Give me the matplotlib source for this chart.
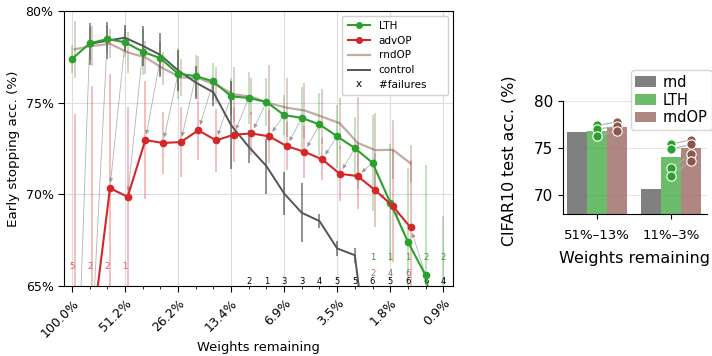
import numpy as np
import matplotlib.pyplot as plt
from matplotlib.patches import FancyArrowPatch
from matplotlib.lines import Line2D
from matplotlib.text import Text
from matplotlib.legend_handler import HandlerBase

# pruning iterations (20% per step)
steps = np.arange(22)
tick_steps = [0, 3, 6, 9, 12, 15, 18, 21]
tick_labels = ["100.0%", "51.2%", "26.2%", "13.4%", "6.9%", "3.5%", "1.8%", "0.9%"]

# early stopping accuracy (%)
lth_acc = [77.37, 78.22, 78.46, 78.28, 77.77, 77.41, 76.57, 76.44, 76.15, 75.34, 75.25,
           75.03, 74.32, 74.16, 73.81, 73.16, 72.52, 71.72, 69.56, 67.42, 65.6, 60.5]
lth_err = [0.75, 0.9, 0.75, 0.8, 1.25, 0.9, 1.4, 1.15, 1.0, 1.0, 1.4,
           1.3, 1.1, 1.7, 1.7, 1.7, 1.7, 2.6, 3.2, 4.0, 6.0, 8.3]

adv_acc = [55.0, 62.6, 70.34, 69.87, 72.96, 72.8, 72.85, 73.49, 72.94, 73.25,
           73.32, 73.16, 72.63, 72.32, 71.91, 71.12, 71.0, 70.23, 69.36, 68.2]
adv_err = [19.4, 13.3, 6.2, 4.9, 3.2, 1.7, 1.9, 1.6, 1.7, 1.5,
           1.15, 1.45, 1.3, 1.4, 1.15, 1.5, 1.8, 2.0, 3.05, 3.7]

rnd_acc = [77.9, 78.08, 78.2, 77.73, 77.46, 76.86, 76.37, 76.33, 75.95, 75.45,
           75.32, 74.96, 74.72, 74.57, 74.23, 73.87, 72.81, 72.41, 72.43, 71.69]
rnd_err = [1.55, 1.1, 0.8, 1.1, 0.9, 0.9, 1.0, 1.2, 1.0, 1.5,
           1.0, 2.1, 1.6, 1.5, 1.5, 1.4, 2.5, 2.0, 1.6, 1.0]

ctrl_acc = [78.19, 78.37, 78.53, 78.09, 77.59, 76.75, 76.09, 75.56, 73.77,
            72.59, 71.54, 70.05, 69.0, 68.55, 67.06, 66.69, 59.0]
ctrl_err = [1.15, 1.0, 0.7, 1.1, 1.2, 1.1, 0.9, 0.75, 2.4,
            0.9, 1.5, 1.15, 1.6, 0.4, 0.4, 0.4, 0.0]

# number of failed runs per level
adv_fail_steps, adv_fail = [0, 1, 2, 3], [5, 2, 2, 1]
lth_fail_steps, lth_fail = [17, 18, 19, 20, 21], [1, 1, 1, 2, 2]
rnd_fail_steps, rnd_fail = [17, 18, 19], [2, 4, 6]
ctrl_fail_steps = list(range(10, 22))
ctrl_fail = [2, 1, 3, 3, 4, 5, 5, 6, 5, 6, 6, 4]

# right panel: CIFAR10 test accuracy
groups = ["51%\u201313%", "11%\u20133%"]
bar_rnd = [76.7, 70.65]
bar_lth = [76.8, 74.05]
bar_rndop = [77.2, 75.0]
pts_lth = [[77.4, 76.98, 76.26], [75.4, 74.87, 72.86, 72.08]]
pts_rndop = [[77.76, 77.31, 76.81], [75.88, 75.4, 74.34, 73.63]]

GREEN = "#2ca02c"
RED = "#d62728"
BROWN = "#8c564b"
DARK = "#555555"
OFF = 0.15  # advOP / rndOP drawn slightly right


class TextHandle(HandlerBase):
    # legend handle that is just a character
    def create_artists(self, legend, orig_handle, xdescent, ydescent,
                       width, height, fontsize, trans):
        t = Text(width / 2 - xdescent, height / 2 - ydescent, orig_handle.get_label(),
                 ha="center", va="center", fontsize=fontsize, transform=trans)
        return [t]


fig = plt.figure(figsize=(7.12, 3.56), dpi=100)
ax = fig.add_axes([0.0899, 0.1958, 0.5463, 0.7742])

x_adv = steps[:len(adv_acc)] + OFF
x_rnd = steps[:len(rnd_acc)] + OFF
x_ctrl = steps[1:1 + len(ctrl_acc)]


def errbars(x, m, e, color, alpha):
    m = np.array(m)
    e = np.array(e)
    ax.vlines(x, m - e, m + e, color=color, alpha=alpha, lw=1.2, zorder=1)


errbars(steps, lth_acc, lth_err, GREEN, 0.35)
errbars(x_adv, adv_acc, adv_err, RED, 0.35)
errbars(x_rnd, rnd_acc, rnd_err, BROWN, 0.35)
errbars(x_ctrl, ctrl_acc, ctrl_err, "k", 0.5)

# arrows from LTH level k+1 to advOP level k
for k in range(len(adv_acc)):
    if k + 1 >= len(lth_acc):
        break
    arr = FancyArrowPatch((steps[k + 1], lth_acc[k + 1]), (x_adv[k], adv_acc[k]),
                          arrowstyle="-|>", mutation_scale=6, color="gray",
                          lw=0.6, alpha=0.6, shrinkA=3, shrinkB=4, zorder=2)
    ax.add_patch(arr)

ax.plot(x_rnd, rnd_acc, color=BROWN, alpha=0.5, lw=1.6, zorder=3)
ax.plot(x_ctrl, ctrl_acc, color=DARK, lw=1.4, zorder=3)
ax.plot(steps, lth_acc, color=GREEN, lw=1.5, marker="o", ms=4.5, zorder=4)
ax.plot(x_adv, adv_acc, color=RED, lw=1.5, marker="o", ms=4.5, zorder=4)

# failure counts
fs = 6
for s, n in zip(lth_fail_steps, lth_fail):
    ax.text(s, 66.57, str(n), color=GREEN, fontsize=fs, ha="center", va="center")
for s, n in zip(adv_fail_steps, adv_fail):
    ax.text(s, 66.1, str(n), color=RED, alpha=0.75, fontsize=fs, ha="center", va="center")
for s, n in zip(rnd_fail_steps, rnd_fail):
    ax.text(s, 65.7, str(n), color=BROWN, alpha=0.8, fontsize=fs, ha="center", va="center")
for s, n in zip(ctrl_fail_steps, ctrl_fail):
    ax.text(s, 65.25, str(n), color="k", fontsize=fs, ha="center", va="center")

ax.set_xlim(-0.45, 21.55)
ax.set_ylim(65, 80)
ax.set_xticks(tick_steps)
ax.set_xticklabels(tick_labels, rotation=45, ha="right", rotation_mode="anchor", fontsize=9)
ax.set_xticks(steps, minor=True)
ax.set_yticks([65, 70, 75, 80])
ax.set_yticklabels(["65%", "70%", "75%", "80%"], fontsize=9)
ax.tick_params(which="major", length=4)
ax.tick_params(which="minor", length=2.5)
ax.grid(True, which="major", color="#dddddd", lw=0.8, zorder=0)
ax.set_axisbelow(True)
ax.set_xlabel("Weights remaining", fontsize=9.4)
ax.xaxis.set_label_coords(0.5, -0.2)
ax.set_ylabel("Early stopping acc. (%)", fontsize=9.7)

handles = [
    Line2D([], [], color=GREEN, lw=1.5, marker="o", ms=4),
    Line2D([], [], color=RED, lw=1.5, marker="o", ms=4),
    Line2D([], [], color=BROWN, alpha=0.5, lw=1.6),
    Line2D([], [], color=DARK, lw=1.4),
    Line2D([], [], label="x"),
]
ax.legend(handles, ["LTH", "advOP", "rndOP", "control", "#failures     "],
          loc="upper right", fontsize=7.5, handlelength=2.2, borderpad=0.5,
          labelspacing=0.45, framealpha=0.9,
          handler_map={handles[4]: TextHandle()})

# right panel
ax2 = fig.add_axes([0.7903, 0.399, 0.2022, 0.3174])
xg = np.arange(len(groups))
w = 0.8 / 3
ax2.bar(xg - w, bar_rnd, w, color="#808080", label="rnd", zorder=2)
ax2.bar(xg, bar_lth, w, color=GREEN, alpha=0.7, label="LTH", zorder=2)
ax2.bar(xg + w, bar_rndop, w, color=BROWN, alpha=0.7, label="rndOP", zorder=2)
for i in range(len(groups)):
    for a, b in zip(pts_lth[i], pts_rndop[i]):
        ax2.plot([xg[i], xg[i] + w], [a, b], color="#aaaaaa", lw=0.8, zorder=3)
    ax2.scatter([xg[i]] * len(pts_lth[i]), pts_lth[i], s=45, color=GREEN,
                edgecolor="white", lw=0.8, zorder=4)
    ax2.scatter([xg[i] + w] * len(pts_rndop[i]), pts_rndop[i], s=45, color=BROWN,
                edgecolor="white", lw=0.8, zorder=4)
ax2.set_ylim(68, 80)
ax2.set_xlim(-0.46, 1.48)
ax2.set_yticks([70, 75, 80])
ax2.set_xticks(xg)
ax2.set_xticklabels(groups, fontsize=9.5)
ax2.tick_params(axis="x", pad=7)
ax2.tick_params(axis="y", labelsize=11)
ax2.grid(True, axis="y", color="#e5e5e5", lw=0.8, zorder=0)
ax2.spines["top"].set_visible(False)
ax2.spines["right"].set_visible(False)
ax2.set_xlabel("Weights remaining", fontsize=11.5, labelpad=7)
ax2.set_ylabel("CIFAR10 test acc. (%)", fontsize=11.4)
ax2.yaxis.set_label_coords(-0.32, 0.47)
ax2.legend(loc="lower right", bbox_to_anchor=(1.09, 0.68), fontsize=10.5,
           handlelength=1.4, borderpad=0.3, labelspacing=0.2, handletextpad=0.5)

fig.savefig("out.png", dpi=100)
